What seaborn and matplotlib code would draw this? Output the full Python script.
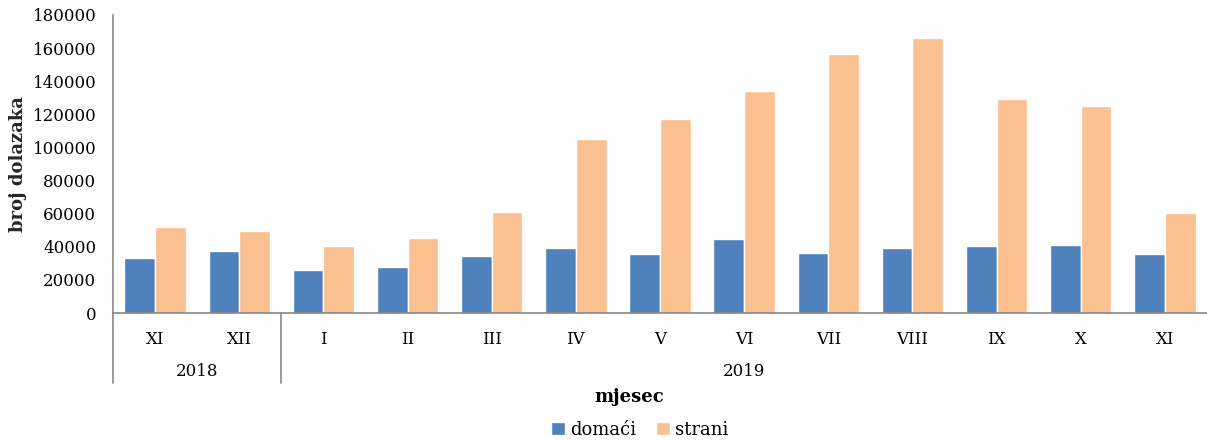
import pandas as pd
import matplotlib.pyplot as plt
import matplotlib.transforms as mtransforms
from matplotlib.patches import Patch
import seaborn as sns

# data
months = ['XI', 'XII', 'I', 'II', 'III', 'IV', 'V', 'VI', 'VII', 'VIII', 'IX', 'X', 'XI']
years = ['2018', '2018', '2019', '2019', '2019', '2019', '2019', '2019', '2019', '2019', '2019', '2019', '2019']
domaci = [33500, 37300, 26200, 28000, 34300, 39500, 35500, 45000, 36500, 39100, 40700, 41300, 35900]
strani = [52200, 49600, 40700, 45400, 61300, 105200, 116900, 134100, 156200, 165900, 129000, 124800, 60700]

keys = [f'{m} {y}' for m, y in zip(months, years)]
df = pd.DataFrame({'key': keys, 'domaći': domaci, 'strani': strani})
df_long = df.melt(id_vars='key', var_name='vrsta', value_name='broj')

blue = '#4F81BD'
orange = '#FAC090'
grey = '#868686'

sns.set_style('white')
plt.rcParams['font.family'] = ['DejaVu Serif']
plt.rcParams['text.color'] = 'black'
plt.rcParams['xtick.color'] = 'black'
plt.rcParams['ytick.color'] = 'black'

fig = plt.figure(figsize=(12.07, 4.41), dpi=100)
ax = fig.add_axes([113 / 1207, 1 - 313 / 441, 1 - 113 / 1207, 298 / 441])

sns.barplot(data=df_long, x='key', y='broj', hue='vrsta', order=keys,
            palette=[blue, orange], saturation=1, width=0.73, edgecolor='white', linewidth=1,
            legend=False, ax=ax)

ax.set_xlim(-0.5, len(keys) - 0.5)
ax.set_ylim(0, 180000)
ax.set_yticks(range(0, 180001, 20000))
ax.tick_params(axis='y', direction='out', length=5, color=grey, width=1, labelsize=12, pad=7)
ax.tick_params(axis='x', length=0, labelsize=12, pad=13)
ax.set_xticks(range(len(keys)))
ax.set_xticklabels(months)

for side in ['top', 'right']:
    ax.spines[side].set_visible(False)
for side in ['left', 'bottom']:
    ax.spines[side].set_color(grey)
    ax.spines[side].set_linewidth(1.2)

ax.set_xlabel('')
ax.set_ylabel('broj dolazaka', fontsize=13, fontweight='bold', labelpad=4)

# year level of the category axis
trans = mtransforms.blended_transform_factory(ax.transData, ax.transAxes)
low = -(383 - 313) / 298
for xs in [-0.5, 1.5]:
    ax.plot([xs, xs], [0, low], color=grey, lw=1.2, transform=trans, clip_on=False)
groups = {}
for i, y in enumerate(years):
    groups.setdefault(y, []).append(i)
for y, idx in groups.items():
    xc = (idx[0] + idx[-1]) / 2
    ax.text(xc, -(372 - 313) / 298, y, transform=trans, ha='center', va='center', fontsize=12)

fig.text(629 / 1207, 1 - 397 / 441, 'mjesec', ha='center', va='center', fontsize=13, fontweight='bold')

handles = [Patch(facecolor=blue), Patch(facecolor=orange)]
fig.legend(handles, ['domaći', 'strani'], loc='center', bbox_to_anchor=(640 / 1207, 1 - 430 / 441),
           ncol=2, frameon=False, fontsize=13, handlelength=0.75, handleheight=0.75,
           handletextpad=0.3, columnspacing=1.1, borderaxespad=0)

fig.savefig('out.png', dpi=100)
